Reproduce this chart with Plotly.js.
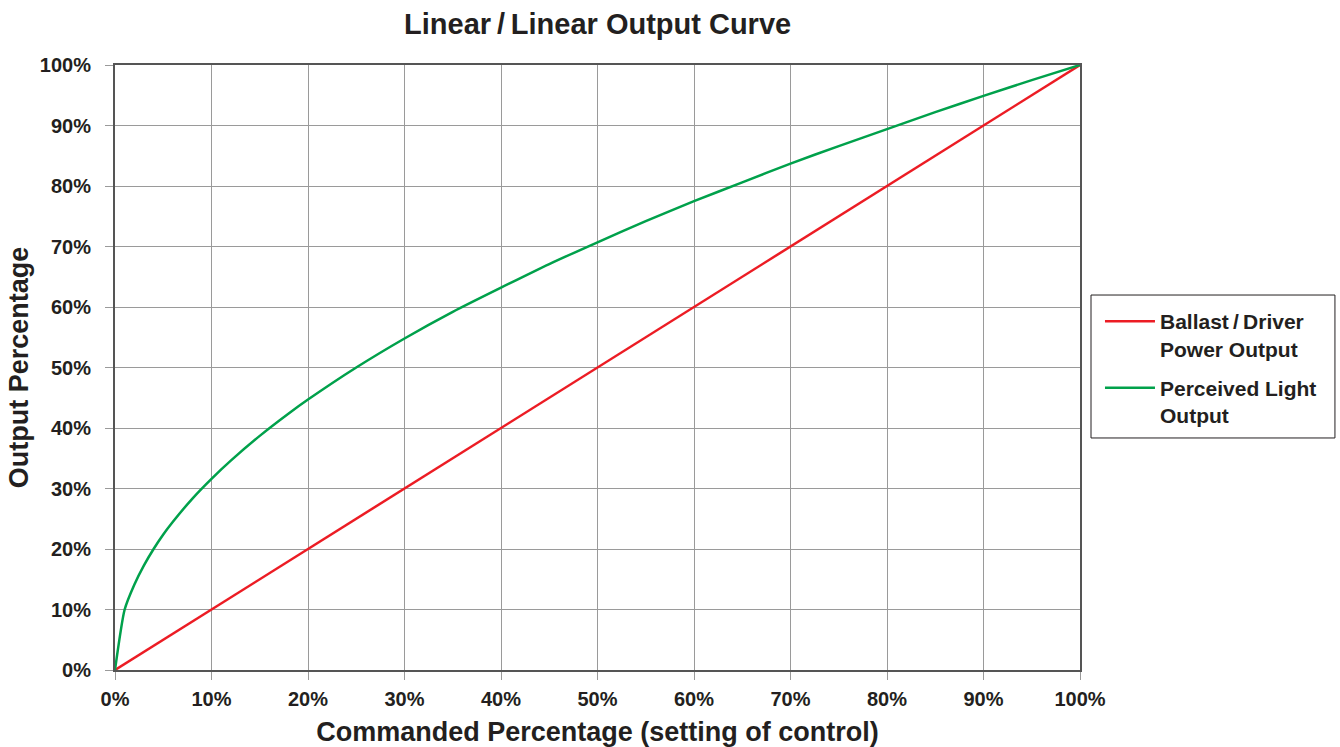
<!DOCTYPE html>
<html>
<head>
<meta charset="utf-8">
<script src="https://cdn.plot.ly/plotly-3.0.1.min.js"></script>
<style>html,body{margin:0;padding:0;background:#fff;}#chart{width:1340px;height:747px;}</style>
</head>
<body>
<div id="chart"></div>
<script>
const commanded = [0, 1, 2, 3, 4, 5, 6, 8, 10, 12, 15, 18, 20, 25, 30, 35, 40, 45, 50, 55, 60, 65, 70, 75, 80, 85, 90, 95, 100];
const ballastOutput = [0, 1, 2, 3, 4, 5, 6, 8, 10, 12, 15, 18, 20, 25, 30, 35, 40, 45, 50, 55, 60, 65, 70, 75, 80, 85, 90, 95, 100];
const perceivedOutput = [0, 10, 14.1, 17.3, 20, 22.4, 24.5, 28.3, 31.6, 34.6, 38.7, 42.4, 44.7, 50, 54.8, 59.2, 63.2, 67.1, 70.7, 74.2, 77.5, 80.6, 83.7, 86.6, 89.4, 92.2, 94.9, 97.5, 100];
const tickVals = [0, 10, 20, 30, 40, 50, 60, 70, 80, 90, 100];
const tickText = ['0%', '10%', '20%', '30%', '40%', '50%', '60%', '70%', '80%', '90%', '100%'];
const seriesNames = ['Ballast\u2009/\u2009Driver<br>Power Output', 'Perceived Light<br>Output'];

const font = 'Liberation Sans, Arial, Helvetica, sans-serif';
const traces = [
  {x: commanded, y: ballastOutput, name: seriesNames[0], legendgroup: 'a', mode: 'lines', line: {color: '#ec1c24', width: 2.5}},
  {x: commanded, y: perceivedOutput, name: seriesNames[1], legendgroup: 'b', mode: 'lines', line: {color: '#00a14b', width: 2.5, shape: 'spline', smoothing: 0.6}}
];
const axisCommon = {
  range: [0, 100], tickvals: tickVals, ticktext: tickText,
  showgrid: true, gridcolor: '#9a9a9a', gridwidth: 1,
  ticks: 'outside', ticklen: 8, tickcolor: '#9a9a9a', tickwidth: 1,
  showline: true, mirror: true, linecolor: '#555', linewidth: 2,
  zeroline: false, tickfont: {family: font, size: 20, color: '#231f20', weight: 'bold'}
};
const layout = {
  width: 1340, height: 747,
  margin: {l: 115, r: 260, t: 65, b: 77},
  paper_bgcolor: '#fff', plot_bgcolor: '#fff',
  title: {text: '<b>Linear\u2009/\u2009Linear Output Curve</b>', x: 0.446, xanchor: 'center', y: 0.968, yanchor: 'middle',
          font: {family: font, size: 29, color: '#231f20'}},
  xaxis: Object.assign({}, axisCommon, {
    ticklabelstandoff: 2,
    title: {text: '<b>Commanded Percentage (setting of control)</b>', standoff: 14, font: {family: font, size: 27, color: '#231f20'}}
  }),
  yaxis: Object.assign({}, axisCommon, {
    ticklabelstandoff: 10,
    title: {text: '<b>Output Percentage</b>', standoff: 3, font: {family: font, size: 27, color: '#231f20'}}
  }),
  shapes: [
    {type: 'rect', xref: 'paper', yref: 'paper', x0: 1.0114, x1: 1.2642, y0: 0.3835, y1: 0.6198,
     line: {color: '#231f20', width: 1}, fillcolor: 'rgba(0,0,0,0)', layer: 'above'}
  ],
  legend: {
    x: 1.0207, xanchor: 'left', y: 0.6099, yanchor: 'top',
    borderwidth: 0, bgcolor: 'rgba(0,0,0,0)',
    font: {family: font, size: 21, color: '#231f20', weight: 'bold'},
    tracegroupgap: 9, itemwidth: 50, valign: 'top'
  },
  showlegend: true
};
Plotly.newPlot('chart', traces, layout, {displayModeBar: false, staticPlot: true});
</script>
</body>
</html>
